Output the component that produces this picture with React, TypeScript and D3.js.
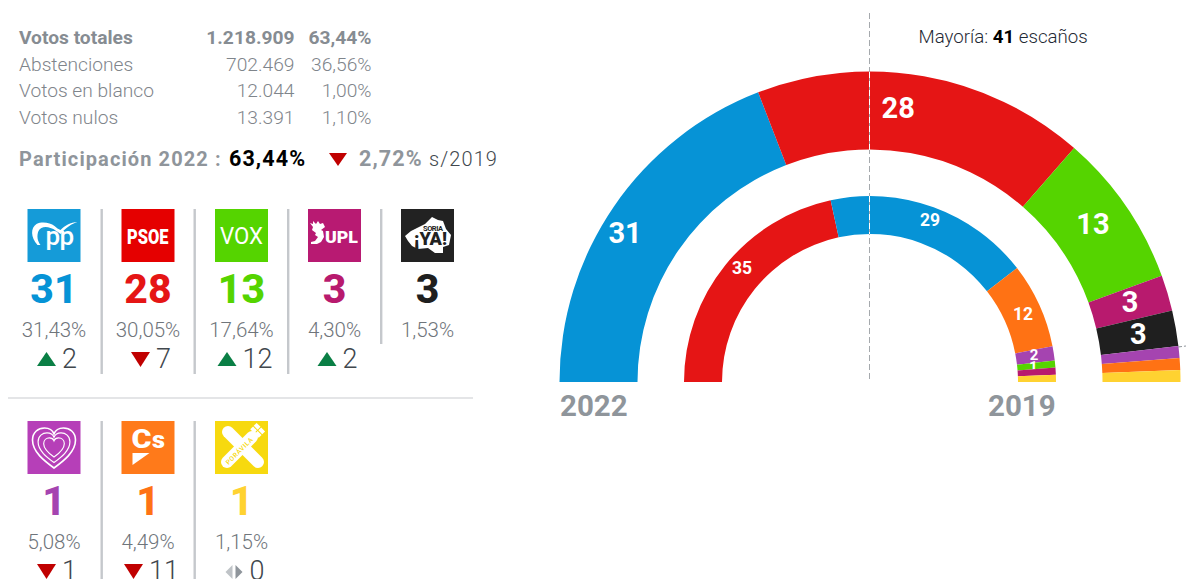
import React from "react";
import * as d3 from "d3";

const COL = { pp: "#0693d6", psoe: "#e51515", vox: "#55d400", upl: "#b81a6e", soria: "#1f1f1f", pod: "#a544b0", cs: "#ff7214", avila: "#ffd231" };
const seats2022 = [
  { k: "pp", v: 31, label: true }, { k: "psoe", v: 28, label: true }, { k: "vox", v: 13, label: true }, { k: "upl", v: 3, label: true },
  { k: "soria", v: 3, label: true }, { k: "pod", v: 1, label: false }, { k: "cs", v: 1, label: false }, { k: "avila", v: 1, label: false },
];
const seats2019 = [
  { k: "psoe", v: 35, label: true }, { k: "pp", v: 29, label: true }, { k: "cs", v: 12, label: true }, { k: "pod", v: 2, label: true },
  { k: "vox", v: 1, label: true }, { k: "upl", v: 1, label: false }, { k: "avila", v: 1, label: false },
];
const tableRows = [
  ["Votos totales", "1.218.909", "63,44%"],
  ["Abstenciones", "702.469", "36,56%"],
  ["Votos en blanco", "12.044", "1,00%"],
  ["Votos nulos", "13.391", "1,10%"],
];
const partiesRow1 = [
  { k: "pp", seats: "31", pct: "31,43%", dir: "up", delta: "2" },
  { k: "psoe", seats: "28", pct: "30,05%", dir: "down", delta: "7" },
  { k: "vox", seats: "13", pct: "17,64%", dir: "up", delta: "12" },
  { k: "upl", seats: "3", pct: "4,30%", dir: "up", delta: "2" },
  { k: "soria", seats: "3", pct: "1,53%", dir: "", delta: "" },
];
const partiesRow2 = [
  { k: "pod", seats: "1", pct: "5,08%", dir: "down", delta: "1" },
  { k: "cs", seats: "1", pct: "4,49%", dir: "down", delta: "11" },
  { k: "avila", seats: "1", pct: "1,15%", dir: "same", delta: "0" },
];
const colX1 = [54, 148, 241.5, 334.5, 427.5];
const colX2 = [54, 148, 241.5];
const F = "Roboto";
const GREY = "#8f959b";
const nudge2022: any = { pp: [-21, 4], psoe: [-19, -7], vox: [-1, -5], upl: [0, -3], soria: [1, -1] };
const nudge2019: any = { psoe: [2, -9], pp: [3, -5], cs: [1, 1], pod: [-1, -2], vox: [-3, 1] };

function Logo({ k, x, y }: any) {
  const s = 53;
  const bg: any = { pp: "#159bd8", psoe: "#e50000", vox: "#55d400", upl: "#b81a72", soria: "#222222", pod: "#b63fb8", cs: "#ff7a1a", avila: "#f7d90f" };
  const T = (p: any) => <text fontFamily={F} fill="#fff" {...p} />;
  return (
    <g transform={`translate(${x - s / 2},${y})`}>
      <rect width={s} height={s} fill={bg[k]} />
      {k === "pp" && <>
        <path d="M10 36 C3 28 3 19 9 15 C15 12 23 14 27 17 C29 19 31 20 33 21 C37 17 43 13 50 13 C44 15 39 18 33 25 C30 23 27 20 23 19 C18 17 13 18 11 22 C9 27 10 32 13 36 Z" fill="#fff" />
        <T x={18} y={36} fontWeight={500} fontSize={26} letterSpacing={-0.6}>pp</T>
      </>}
      {k === "psoe" && <T x={5.5} y={35} fontWeight={900} fontSize={20} textLength={41.5} lengthAdjust="spacingAndGlyphs">PSOE</T>}
      {k === "vox" && <T x={5} y={35} fontWeight={400} fontSize={24} textLength={43} lengthAdjust="spacingAndGlyphs">VOX</T>}
      {k === "upl" && <>
        <path d="M2 14 L5 15 L5 12 L8 15 L10 12 L12 15 L15 14 L17 18 L13 21 L15 22 L16 28 L13 33 L9 35 L3 35 L3 33 L7 32 L10 28 L7 26 L8 24 L4 21 L5 18 Z" fill="#fff" />
        <T x={17} y={34} fontWeight={900} fontSize={17} textLength={33} lengthAdjust="spacingAndGlyphs">UPL</T>
      </>}
      {k === "soria" && <>
        <path d="M4 27 L10 22 L16 19 L24 15 L31 8 L37 11 L42 12 L45 20 L50 26 L48 36 L42 38 L42 44 L34 44 L27 39 L17 40 L11 37 L7 32 Z" fill="#fff" />
        <T x={22} y={21.5} fontWeight={700} fontSize={7.5} fill="#222" textLength={20}>SORIA</T>
        <T x={13} y={36} fontWeight={900} fontSize={18} fill="#222" textLength={33} lengthAdjust="spacingAndGlyphs">¡YA!</T>
      </>}
      {k === "pod" && [0, 1, 2].map(i => (
        <path key={i} transform={`translate(26.5,26) scale(${1 - i * 0.26}) translate(-26.5,-26)`} d="M26.5 47 C17 40 5 31 5 19 C5 11 11 7 17 7 C21 7 25 9 26.5 13 C28 9 32 7 36 7 C42 7 48 11 48 19 C48 31 36 40 26.5 47 Z" fill="none" stroke="#fff" strokeWidth={i === 2 ? 2.4 : 1.6} />
      ))}
      {k === "cs" && <>
        <T x={10} y={27} fontWeight={900} fontSize={25} textLength={20} lengthAdjust="spacingAndGlyphs">C</T>
        <T x={30.5} y={27} fontWeight={900} fontSize={24} textLength={13} lengthAdjust="spacingAndGlyphs">s</T>
        <path d="M11 32 L28 32 L11 44 Z" fill="#fff" />
      </>}
      {k === "avila" && <>
        <path d="M13 11 L43 41" stroke="#fff" strokeWidth={12} strokeLinecap="round" />
        <path d="M12 41 L37 16" stroke="#fff" strokeWidth={12} strokeLinecap="round" />
        <g transform="translate(43,9) rotate(-45)" fill="#fff">
          <rect x={-5} y={-6} width={4} height={5.5} />
          <rect x={-5} y={0.5} width={4} height={5.5} />
          <rect x={0} y={-6} width={4} height={5.5} />
          <rect x={0} y={0.5} width={4} height={5.5} />
        </g>
        <text transform="translate(13.5,44) rotate(-45)" fontFamily={F} fontWeight={500} fontSize={6.5} fill={bg.avila} textLength={35}>PORÁVILA</text>
      </>}
    </g>
  );
}

function Tri({ dir, x, y }: any) {
  if (dir === "up") return <path d={`M${x} ${y + 14}L${x + 19} ${y + 14}L${x + 9.5} ${y}Z`} fill="#0a7f45" />;
  if (dir === "down") return <path d={`M${x} ${y}L${x + 19} ${y}L${x + 9.5} ${y + 15}Z`} fill="#c00000" />;
  return <>
    <path d={`M${x + 8} ${y + 1}L${x + 8} ${y + 15}L${x + 1} ${y + 8}Z`} fill="#bfc3c7" />
    <path d={`M${x + 11} ${y + 1}L${x + 11} ${y + 15}L${x + 18} ${y + 8}Z`} fill="#8f959b" />
  </>;
}

function Party({ p, x, top }: any) {
  const deltaW = p.delta.length === 2 ? 29 : 15;
  const total = 19 + 6 + deltaW;
  const tx = x + 3 - total / 2;
  return (
    <g>
      <Logo k={p.k} x={x} y={top} />
      <text x={x} y={top + 94} fontFamily={F} fontWeight={800} fontSize={41} textAnchor="middle" fill={(COL as any)[p.k]}>{p.seats}</text>
      <text x={x} y={top + 128} fontFamily={F} fontWeight={300} fontSize={20.5} textAnchor="middle" fill="#6f757b">{p.pct}</text>
      {p.dir && <>
        <Tri dir={p.dir} x={tx} y={top + 143} />
        <text x={tx + 25} y={top + 159} fontFamily={F} fontWeight={300} fontSize={27} fill="#41474d">{p.delta}</text>
      </>}
    </g>
  );
}

function Ring({ data, r0, r1, fs, nudge }: any) {
  const pie = d3.pie<any>().value((d: any) => d.v).sort(null).startAngle(-Math.PI / 2).endAngle(Math.PI / 2);
  const arc = d3.arc<any>().innerRadius(r0).outerRadius(r1);
  return (
    <g>
      {pie(data).map((d: any) => {
        const [cx, cy] = arc.centroid(d);
        const n = nudge[d.data.k] || [0, 0];
        return (
          <g key={d.data.k}>
            <path d={arc(d) as string} fill={(COL as any)[d.data.k]} />
            {d.data.label && <text x={cx + n[0]} y={cy + n[1]} dy="0.36em" textAnchor="middle" fontFamily={F} fontWeight={700} fontSize={d.data.v < 3 && fs < 20 ? 15 : fs} fill="#fff">{d.data.v}</text>}
          </g>
        );
      })}
    </g>
  );
}

export default function App() {
  const cx = 870, cy = 382;
  return (
    <svg width={1186} height={579} style={{ position: "absolute", left: 0, top: 0, display: "block" }}>
      {tableRows.map((r, i) => {
        const y = 44 + i * 26.5;
        const fw = i === 0 ? 700 : 300;
        const fill = i === 0 ? "#868c92" : "#7f858b";
        return (
          <g key={r[0]} fontFamily={F} fontSize={19.2} fontWeight={fw} fill={fill}>
            <text x={19} y={y}>{r[0]}</text>
            <text x={294.5} y={y} textAnchor="end">{r[1]}</text>
            <text x={371.5} y={y} textAnchor="end">{r[2]}</text>
          </g>
        );
      })}
      <g fontFamily={F} fontWeight={700} letterSpacing={1.1}>
        <text x={19} y={166} fill={GREY} fontSize={20}>Participación 2022 :</text>
        <text x={229} y={166} fill="#000" fontSize={21.5}>63,44%</text>
        <path d="M329 153L347 153L338 166Z" fill="#c00000" />
        <text x={359} y={166} fill={GREY} fontSize={21.5}>2,72%</text>
        <text x={429} y={166} fontWeight={300} fill="#41474d" fontSize={20}>s/2019</text>
      </g>

      {partiesRow1.map((p, i) => <Party key={p.k} p={p} x={colX1[i]} top={209} />)}
      {partiesRow2.map((p, i) => <Party key={p.k} p={p} x={colX2[i]} top={421} />)}
      {[101.5, 194.5, 288, 381].map((x, i) => <rect key={x} x={x - 1} y={209} width={2.4} height={i === 3 ? 135 : 165} fill="#c5c8cc" />)}
      {[101.5, 194.5].map(x => <rect key={x} x={x - 1} y={421} width={2.4} height={158} fill="#c5c8cc" />)}
      <rect x={8} y={397.5} width={465} height={1} fill="#c9cccf" />

      <g transform={`translate(${cx},${cy})`}>
        <Ring data={seats2022} r0={232.5} r1={310.5} fs={29} nudge={nudge2022} />
        <Ring data={seats2019} r0={148} r1={186} fs={17.5} nudge={nudge2019} />
      </g>
      <line x1={869.5} x2={869.5} y1={13} y2={382} stroke="#a5a9ad" strokeDasharray="6 3" strokeWidth={1} />
      <line x1={869.5} x2={869.5} y1={cy - 310} y2={cy - 232} stroke="#fff" strokeDasharray="6 3" strokeWidth={1} />
      <line x1={869.5} x2={869.5} y1={cy - 186} y2={cy - 148} stroke="#fff" strokeDasharray="6 3" strokeWidth={1} />
      <line x1={1178} x2={1186} y1={347} y2={346} stroke="#8f959b" strokeDasharray="4 2" strokeWidth={1} />
      <text x={918.5} y={43} fontFamily={F} fontWeight={300} fontSize={18.7} fill="#1f2a35">Mayoría: <tspan fontWeight={700} fill="#000">41</tspan> escaños</text>
      <text x={560} y={415.5} fontFamily={F} fontSize={29.5} fontWeight={700} fill={GREY}>2022</text>
      <text x={988} y={415.5} fontFamily={F} fontSize={29.5} fontWeight={700} fill={GREY}>2019</text>
    </svg>
  );
}
